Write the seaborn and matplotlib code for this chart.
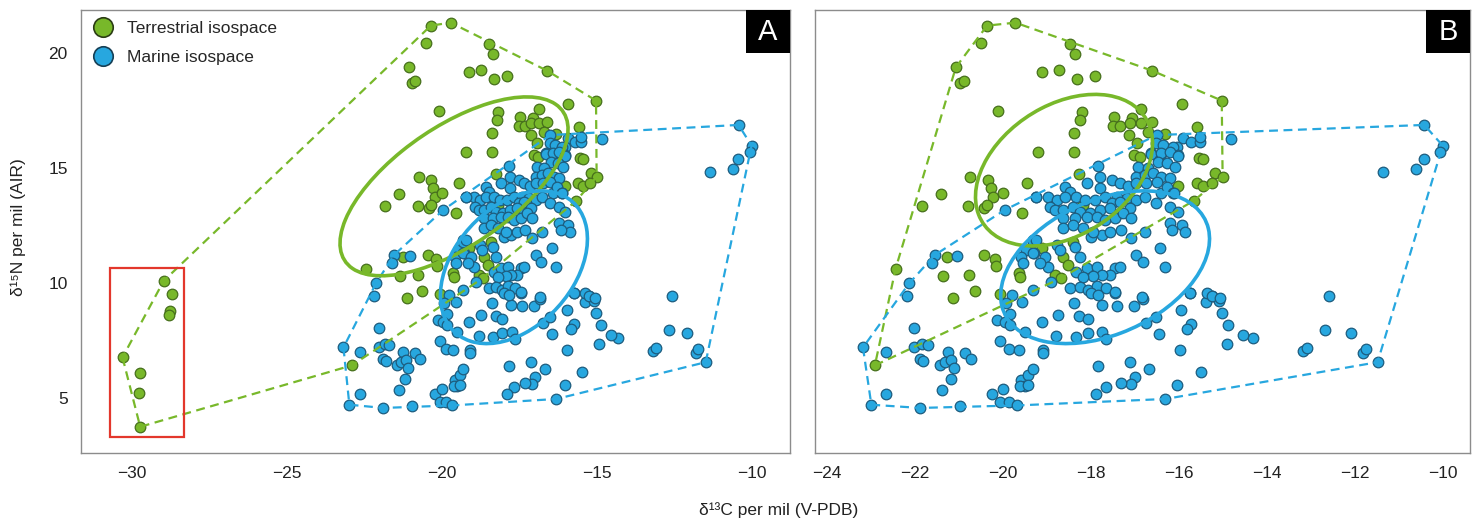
import numpy as np
import pandas as pd
import seaborn as sns
import matplotlib.pyplot as plt
from matplotlib.patches import Ellipse, Rectangle
from matplotlib.lines import Line2D

# terrestrial samples (shown in both panels)
terr_d13c = [-20.36, -19.72, -20.51, -21.07, -20.98, -20.88, -20.11, -19.12, -19.21,
             -18.48, -18.36, -18.73, -18.31, -17.90, -16.61, -15.03, -15.94, -18.20,
             -18.24, -18.38, -18.38, -17.47, -17.50, -17.33, -17.06, -17.12, -16.87,
             -16.87, -16.61, -16.70, -17.14, -16.95, -16.32, -15.59, -17.03, -16.89,
             -15.54, -15.45,
             -21.13, -20.64, -20.07, -22.91,
             -20.74, -20.35, -20.28, -20.23, -20.00, -21.40, -21.83, -20.79, -20.42,
             -20.36, -19.56, -19.45, -22.44, -21.26, -20.44, -20.19, -20.16, -21.36,
             -20.77, -19.63, -19.62,
             -18.27, -15.19, -15.01, -15.60, -15.45, -15.24, -15.66, -16.02, -18.18,
             -19.12, -18.63, -18.52, -18.82, -18.69, -18.41]
terr_d15n = [21.19, 21.32, 20.42, 19.38, 18.71, 18.78, 17.49, 19.19, 15.68,
             20.41, 19.94, 19.26, 18.88, 19.00, 19.23, 17.93, 17.78, 17.45,
             17.09, 16.51, 15.70, 17.23, 16.83, 16.83, 17.16, 16.94, 16.97,
             17.57, 17.01, 16.58, 16.43, 16.07, 16.48, 16.77, 15.57, 15.49,
             15.42, 15.38,
             9.34, 9.63, 9.53, 6.41,
             14.59, 14.48, 14.11, 13.75, 13.90, 13.85, 13.36, 13.36, 13.24,
             13.39, 13.03, 14.33, 10.61, 11.11, 11.21, 11.04, 10.74, 10.30,
             10.35, 10.45, 10.24,
             14.74, 14.77, 14.62, 14.33, 14.21, 14.33, 13.58, 14.21, 13.39,
             11.50, 11.14, 10.78, 10.35, 10.20, 11.79]

# terrestrial outliers inside the red box (dropped in panel B)
out_d13c = [-28.98, -28.70, -28.77, -28.80, -30.31, -29.74, -29.78, -29.74]
out_d15n = [10.09, 9.50, 8.77, 8.60, 6.76, 6.08, 5.23, 3.74]

# marine samples
mar_d13c = [-16.51, -16.53, -16.36, -15.92, -15.72, -15.53, -15.53, -14.83, -16.04,
            -16.13, -16.63, -16.41, -16.02,
            -10.43, -10.01, -10.07, -10.44, -10.62, -11.36, -12.59,
            -14.33, -12.69, -12.10, -13.18, -13.10, -11.81, -11.75, -11.49,
            -17.46, -18.39, -17.76, -17.41, -17.02, -16.83, -18.75, -18.27, -18.06,
            -19.12, -18.80, -18.34, -18.06, -17.75, -17.66, -16.74, -16.53, -16.46,
            -15.74, -15.26, -15.39, -15.09, -15.02, -15.96, -15.73, -15.83, -14.88,
            -14.92, -14.54, -15.98, -19.09, -19.09, -17.84, -17.12, -16.69, -15.49,
            -17.00, -17.08, -17.32, -17.67, -17.89, -16.04, -16.31,
            -22.18, -19.79, -19.94, -19.56, -19.83, -20.13, -19.96, -19.83, -19.51,
            -22.02, -20.07, -19.86, -19.64, -23.18, -22.65, -22.02, -21.85, -21.70,
            -21.89, -21.82, -21.25, -21.44, -21.31, -21.17, -21.11, -21.19, -20.87,
            -20.72, -21.38, -22.66, -22.99, -21.89, -20.97, -20.24, -20.00, -20.07,
            -19.86, -19.67, -19.58, -19.43, -19.32, -19.51, -19.62, -19.43,
            -19.96, -19.24, -21.55, -21.61, -21.04, -19.32, -19.47, -19.29, -19.58,
            -19.54, -22.13,
            -16.64, -16.41, -16.21, -16.02, -16.47, -16.27, -16.09, -16.93, -16.70,
            -17.84, -17.80,
            -16.97, -16.78, -16.59, -16.40, -16.21,
            -17.53, -17.34, -17.16, -16.97, -16.74, -16.51,
            -18.10, -17.80, -18.59, -18.48,
            -16.42, -16.28, -16.13,
            -18.97, -18.78, -18.59, -18.33, -18.14, -17.91, -17.69, -17.42, -17.19,
            -16.97, -16.78, -19.24, -17.53, -17.34,
            -18.94, -18.82, -18.63, -18.41, -18.25, -18.03, -17.80, -17.57, -17.34,
            -17.12, -16.53, -16.21, -16.02, -16.12,
            -18.63, -18.37, -18.10, -17.87, -17.69, -17.46, -17.27, -17.08,
            -16.21, -15.94, -15.87, -16.17,
            -18.63, -18.41, -18.18, -17.99, -17.76, -17.57, -17.31, -17.08, -16.78,
            -19.31, -19.24, -19.31,
            -18.78, -18.71, -18.37, -18.25, -17.95,
            -16.44, -16.97, -16.81, -16.32,
            -19.05, -18.97, -19.16,
            -18.33, -18.10, -17.87, -17.46, -17.34, -17.57, -17.76, -17.95, -18.18,
            -18.90, -18.48, -18.25, -18.06, -17.87, -17.65, -17.99, -17.84, -17.46,
            -16.85, -15.75, -15.37, -15.26, -15.07, -19.31]
mar_d15n = [16.43, 16.10, 16.00, 16.32, 16.13, 16.13, 16.36, 16.25, 15.93,
            15.93, 15.64, 15.61, 15.55,
            16.87, 15.97, 15.71, 15.39, 14.94, 14.84, 9.45,
            7.60, 7.96, 7.82, 7.05, 7.16, 6.95, 7.12, 6.55,
            9.58, 9.12, 9.05, 8.98, 8.98, 9.31, 8.61, 8.57, 8.42,
            8.28, 7.71, 7.63, 7.82, 7.86, 7.56, 8.25, 8.51, 7.79,
            9.56, 9.44, 9.16, 9.22, 8.71, 8.80, 8.21, 7.99, 8.18,
            7.35, 7.74, 7.09, 7.09, 6.95, 6.37, 6.55, 6.27, 6.11,
            5.90, 5.61, 5.64, 5.45, 5.18, 5.54, 4.95,
            9.41, 9.48, 9.12, 9.15, 8.66, 8.37, 8.32, 8.18, 7.85,
            8.03, 7.48, 7.13, 7.06, 7.19, 6.99, 7.21, 7.34, 7.28,
            6.69, 6.61, 6.98, 6.44, 6.58, 6.63, 6.29, 5.83, 6.95,
            6.70, 5.35, 5.16, 4.70, 4.56, 4.63, 5.18, 5.38, 4.80,
            4.82, 4.67, 5.79, 6.00, 6.27, 5.50, 5.50, 5.57,
            13.17, 13.75, 11.21, 10.85, 11.19, 11.87, 11.43, 11.29, 11.14,
            10.85, 9.98,
            15.61, 15.64, 15.71, 15.52, 15.27, 15.20, 15.06, 15.06, 14.98,
            15.08, 14.62,
            14.62, 14.69, 14.79, 14.62, 14.55,
            14.48, 14.33, 14.21, 14.33, 14.33, 14.40,
            14.33, 14.11, 14.19, 13.97,
            13.90, 14.16, 13.90,
            13.75, 13.61, 13.75, 13.75, 13.61, 13.61, 13.75, 13.75, 13.68,
            13.61, 13.75, 13.75, 13.46, 13.53,
            13.32, 13.17, 13.17, 13.32, 13.10, 13.03, 13.17, 13.24, 13.03,
            13.24, 13.46, 13.32, 13.10, 13.90,
            12.81, 12.81, 12.88, 12.88, 12.74, 12.81, 13.03, 12.81,
            12.59, 12.52, 12.23, 12.30,
            12.37, 12.52, 12.37, 12.01, 12.08, 12.23, 12.30, 11.94, 12.23,
            11.79, 11.87, 11.29,
            11.65, 11.43, 11.58, 11.14, 12.23,
            11.50, 11.21, 10.92, 10.71,
            11.14, 10.71, 10.85,
            10.49, 10.64, 10.71, 10.64, 10.71, 10.35, 10.35, 10.30, 10.27,
            10.06, 9.77, 9.84, 9.69, 9.87, 9.77, 9.55, 9.48, 9.62,
            9.37, 9.58, 9.55, 9.45, 9.33, 9.69]

GREEN = '#78b82a'
GREEN_EDGE = '#466f1c'
BLUE = '#27a7df'
BLUE_EDGE = '#1d5c7e'


def convex_hull(x, y):
    pts = sorted(set(zip(x, y)))

    def cross(o, a, b):
        return (a[0] - o[0]) * (b[1] - o[1]) - (a[1] - o[1]) * (b[0] - o[0])

    lower, upper = [], []
    for p in pts:
        while len(lower) >= 2 and cross(lower[-2], lower[-1], p) <= 0:
            lower.pop()
        lower.append(p)
    for p in reversed(pts):
        while len(upper) >= 2 and cross(upper[-2], upper[-1], p) <= 0:
            upper.pop()
        upper.append(p)
    h = lower[:-1] + upper[:-1]
    h.append(h[0])
    return np.array(h)


def std_ellipse(ax, x, y, color):
    cov = np.cov(x, y)
    vals, vecs = np.linalg.eigh(cov)
    angle = np.degrees(np.arctan2(vecs[1, 1], vecs[0, 1]))
    ax.add_patch(Ellipse((np.mean(x), np.mean(y)), 2 * np.sqrt(vals[1]), 2 * np.sqrt(vals[0]),
                         angle=angle, fill=False, ec=color, lw=2.6, zorder=5))


def draw_panel(ax, tx, ty, label):
    terr = pd.DataFrame({'x': tx, 'y': ty})
    mar = pd.DataFrame({'x': mar_d13c, 'y': mar_d15n})
    sns.scatterplot(data=terr, x='x', y='y', ax=ax, color=GREEN, edgecolor=GREEN_EDGE,
                    s=58, linewidth=0.9, zorder=2)
    sns.scatterplot(data=mar, x='x', y='y', ax=ax, color=BLUE, edgecolor=BLUE_EDGE,
                    s=58, linewidth=0.9, zorder=3)
    for df, c in [(terr, GREEN), (mar, BLUE)]:
        h = convex_hull(df['x'], df['y'])
        ax.plot(h[:, 0], h[:, 1], ls=(0, (4, 2.5)), color=c, lw=1.6, zorder=4)
    std_ellipse(ax, terr['x'], terr['y'], GREEN)
    std_ellipse(ax, mar['x'], mar['y'], BLUE)

    ax.set_xlabel('')
    ax.set_ylabel('')
    ax.set_ylim(2.6, 21.87)
    ax.set_yticks([5, 10, 15, 20])
    for sp in ax.spines.values():
        sp.set_color('#8c8c8c')
        sp.set_linewidth(1.0)
    ax.tick_params(colors='#8c8c8c', labelcolor='#222222', labelsize=12.5,
                   length=6, width=1.0, direction='out')
    bw = 44 / (ax.get_position().width * 1483)
    bh = 43 / (ax.get_position().height * 522)
    ax.add_patch(Rectangle((1 - bw, 1 - bh), bw, bh, transform=ax.transAxes,
                           facecolor='black', edgecolor='none', zorder=10, clip_on=False))
    ax.text(1 - bw / 2, 1 - bh / 2, label, transform=ax.transAxes, color='white',
            fontsize=21, ha='center', va='center', zorder=11)


sns.set_style('white')
plt.rcParams['font.family'] = ['Liberation Sans', 'DejaVu Sans']

fig = plt.figure(figsize=(14.83, 5.22), dpi=100)
axA = fig.add_axes([81 / 1483, 1 - 453 / 522, 709 / 1483, 443 / 522])
axB = fig.add_axes([815 / 1483, 1 - 453 / 522, 655 / 1483, 443 / 522])

draw_panel(axA, terr_d13c + out_d13c, terr_d15n + out_d15n, 'A')
axA.set_xlim(-31.65, -8.77)
axA.set_xticks([-30, -25, -20, -15, -10])
axA.add_patch(Rectangle((-30.7, 3.3), 2.38, 7.33, fill=False, ec='#e3372c', lw=1.6, zorder=6))

draw_panel(axB, terr_d13c, terr_d15n, 'B')
axB.set_xlim(-24.27, -9.39)
axB.set_xticks(list(range(-24, -9, 2)))
axB.tick_params(labelleft=False)

handles = [Line2D([], [], ls='none', marker='o', ms=14, mfc=GREEN, mec='#2b3d14', mew=1.2),
           Line2D([], [], ls='none', marker='o', ms=14, mfc=BLUE, mec='#163f55', mew=1.2)]
axA.legend(handles, ['Terrestrial isospace', 'Marine isospace'], loc='upper left',
           bbox_to_anchor=(0.0165, 0.975), frameon=False, fontsize=12.5, borderpad=0,
           borderaxespad=0, handlelength=1.2, handletextpad=0.75, labelspacing=0.8)

fig.text(0.525, 0.022, 'δ¹³C per mil (V-PDB)', ha='center', va='center', fontsize=12.5, color='#222222')
fig.text(0.012, 0.565, 'δ¹⁵N per mil (AIR)', ha='center', va='center', rotation=90,
         fontsize=12.5, color='#222222')

fig.savefig('out.png', dpi=100)
